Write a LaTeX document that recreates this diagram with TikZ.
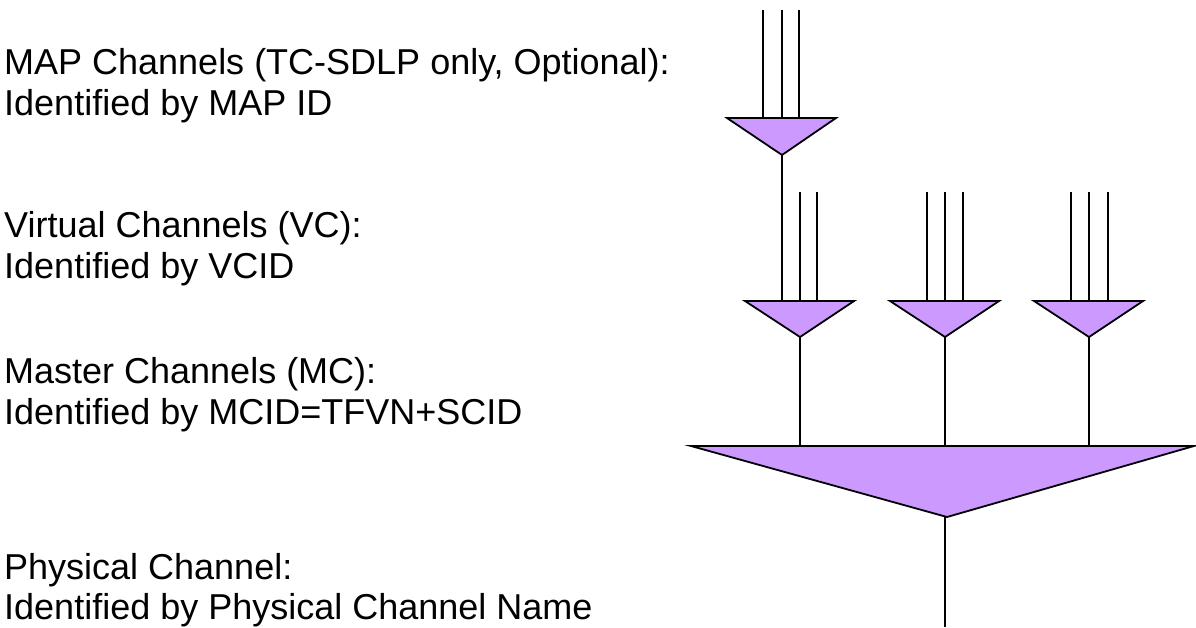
\documentclass[tikz,border=0pt]{standalone}
\usepackage{fontspec}
\setmainfont{Liberation Sans}
\begin{document}
\begin{tikzpicture}[x=1pt,y=-1pt,
  lbl/.style={anchor=base west,inner sep=0pt,font=\fontsize{36}{41}\selectfont},
  mux/.style={draw=black,fill=muxfill,line width=1.8pt,line join=miter},
  wire/.style={draw=black,line width=1.8pt}]
\definecolor{muxfill}{RGB}{204,153,255}
\useasboundingbox (0,0) rectangle (1196,627);
% labels
\node[lbl] (t1a) at (4,74) {MAP Channels (TC-SDLP only, Optional):};
\node[lbl] (t1b) at (4,115) {Identified by MAP ID};
\node[lbl] (t2a) at (4,237) {Virtual Channels (VC):};
\node[lbl] (t2b) at (4,278) {Identified by VCID};
\node[lbl] (t3a) at (4,383) {Master Channels (MC):};
\node[lbl] (t3b) at (4,424) {Identified by MCID=TFVN+SCID};
\node[lbl] (t4a) at (4,579) {Physical Channel:};
\node[lbl] (t4b) at (4,619) {Identified by Physical Channel Name};
% MAP multiplexer
\coordinate (m1) at (763,10); \coordinate (m1b) at (763,118);
\coordinate (m2) at (782,10); \coordinate (m2b) at (782,118);
\coordinate (m3) at (799,10); \coordinate (m3b) at (799,118);
\draw[wire] (m1) -- (m1b); \draw[wire] (m2) -- (m2b); \draw[wire] (m3) -- (m3b);
\coordinate (mapx) at (782,155);
\path[mux] (727,118) -- (836,118) -- (mapx) -- cycle;
% VC multiplexers
\foreach \n/\c in {a/800,b/945,c/1089}{
  \coordinate (vc\n) at (\c,337);
  \path[mux] (\c-55,301) -- (\c+54,301) -- (vc\n) -- cycle;
}
\coordinate (va1b) at (782,301);
\draw[wire] (mapx) -- (va1b);
\foreach \x in {800,817,927,945,963,1071,1089,1108}{
  \draw[wire] (\x,192) -- (\x,301);
}
% MC multiplexer
\coordinate (mca) at (800,446); \coordinate (mcb) at (945,446); \coordinate (mcc) at (1089,446);
\draw[wire] (vca) -- (mca); \draw[wire] (vcb) -- (mcb); \draw[wire] (vcc) -- (mcc);
\coordinate (pcx) at (947,517);
\path[mux] (691,446) -- (1194,446) -- (pcx) -- cycle;
\coordinate (pcout) at (945,627);
\draw[wire] (945,517) -- (pcout);
\end{tikzpicture}
\end{document}
